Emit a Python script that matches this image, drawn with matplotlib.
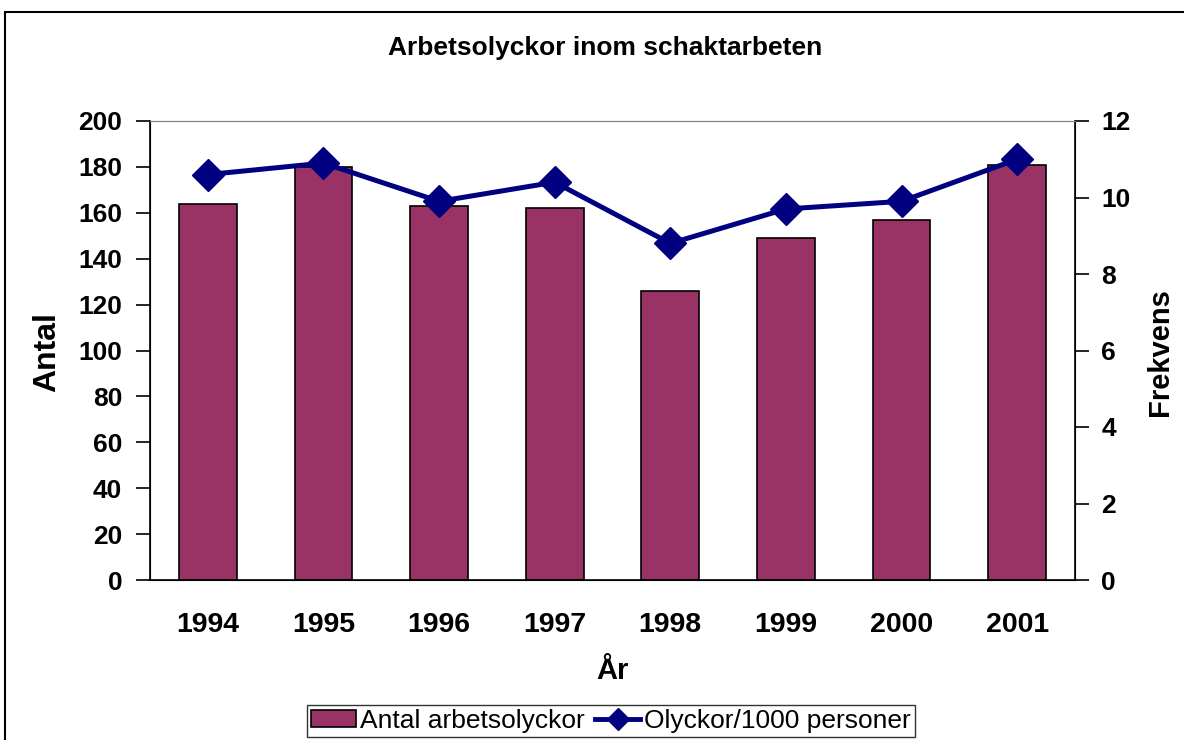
import matplotlib
matplotlib.use("Agg")
import matplotlib.pyplot as plt
from matplotlib.patches import Rectangle

years = ["1994", "1995", "1996", "1997", "1998", "1999", "2000", "2001"]
antal = [164, 180, 163, 162, 126, 149, 157, 181]
frekvens = [10.6, 10.9, 9.9, 10.4, 8.8, 9.7, 9.9, 11.0]
left_ticks = [0, 20, 40, 60, 80, 100, 120, 140, 160, 180, 200]
right_ticks = [0, 2, 4, 6, 8, 10, 12]

plt.rcParams['font.family'] = ['Liberation Sans', 'DejaVu Sans']

fig = plt.figure(figsize=(11.84, 7.4), dpi=100)
W, H = 1184, 740
ax = fig.add_axes([150 / W, 1 - 580 / H, 925 / W, 459 / H])

# outer frame
fig.patches.append(Rectangle((5 / W, -0.1), 1.2, 1 - 12 / H + 0.1, transform=fig.transFigure,
                             fill=False, edgecolor='black', linewidth=1.5))

x = list(range(len(years)))
bars = ax.bar(x, antal, width=0.5, color='#993366', edgecolor='black', linewidth=1.2,
              label='Antal arbetsolyckor', zorder=2)
ax.set_xlim(-0.5, len(years) - 0.5)
ax.set_ylim(0, 200)
ax.set_yticks(left_ticks)
ax.set_xticks(x)
ax.set_xticklabels(years)
ax.tick_params(axis='y', direction='out', length=10, width=1.2, labelsize=19, pad=10)
ax.tick_params(axis='x', length=0, labelsize=20.5, pad=23)
for lab in ax.get_yticklabels() + ax.get_xticklabels():
    lab.set_fontweight('bold')
ax.set_xlabel('År', fontsize=21, fontweight='bold', labelpad=14)
ax.spines['top'].set_color('#808080')
ax.spines['left'].set_linewidth(1.2)
ax.spines['bottom'].set_linewidth(1.2)

ax2 = ax.twinx()
line, = ax2.plot(x, frekvens, color='#000080', linewidth=3.6, marker='D', markersize=16,
                 label='Olyckor/1000 personer', zorder=3)
ax2.set_ylim(0, 12)
ax2.set_yticks(right_ticks)
ax2.tick_params(axis='y', direction='out', length=10, width=1.2, labelsize=19, pad=9)
for lab in ax2.get_yticklabels():
    lab.set_fontweight('bold')
ax2.spines['right'].set_linewidth(1.2)
ax2.spines['top'].set_color('#808080')

fig.text(47 / W, 1 - 352 / H, 'Antal', rotation=90, ha='center', va='center',
         fontsize=23, fontweight='bold')
fig.text(1160 / W, 1 - 352 / H, 'Frekvens', rotation=90, ha='center', va='center',
         fontsize=21, fontweight='bold')

fig.text(605 / W, 1 - 48 / H, 'Arbetsolyckor inom schaktarbeten', ha='center', va='center',
         fontsize=19, fontweight='bold')

leg = fig.legend([bars, line], ['Antal arbetsolyckor', 'Olyckor/1000 personer'],
                 loc='upper center', bbox_to_anchor=(611 / W, 1 - 705 / H), ncol=2,
                 fontsize=19, frameon=True, fancybox=False, edgecolor='black',
                 handlelength=1.7, handleheight=0.6, handletextpad=0.15, columnspacing=0.4,
                 borderpad=0.15, borderaxespad=0)
leg.get_frame().set_linewidth(1.0)
leg.legend_handles[1].set_markersize(11)
leg.legend_handles[1].set_linewidth(3.5)

fig.savefig('out.png', dpi=100)
